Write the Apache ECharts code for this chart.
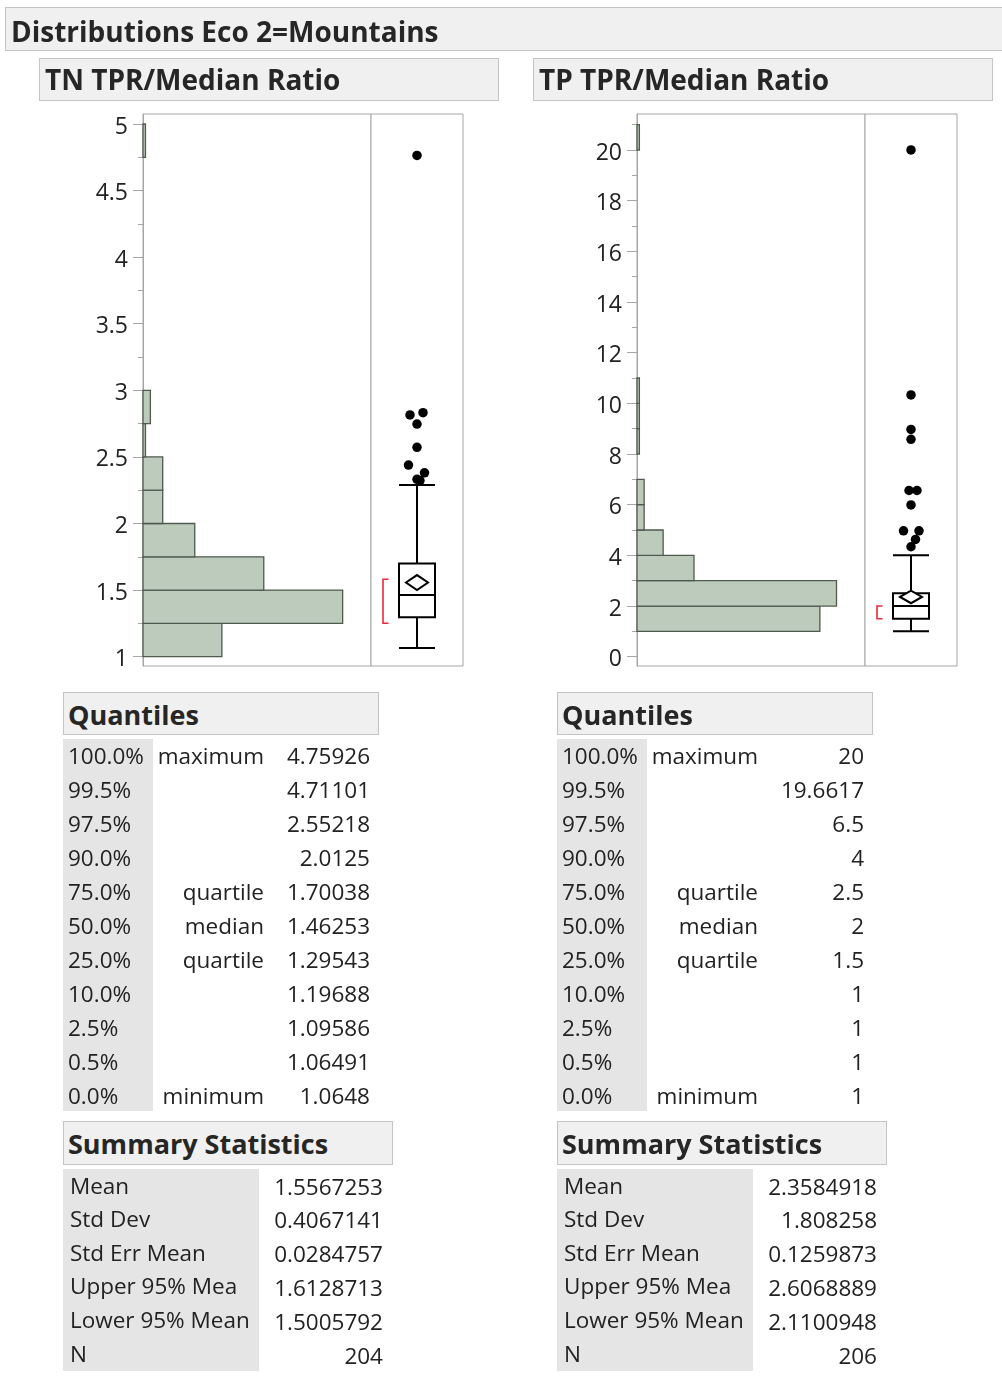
<!DOCTYPE html>
<html><head><meta charset="utf-8">
<script src="https://cdn.jsdelivr.net/npm/echarts@6/dist/echarts.min.js"></script>
<style>
html,body{margin:0;padding:0;background:#fff;}
#page{position:relative;width:1002px;height:1383px;overflow:hidden;font-family:'Open Sans',sans-serif;color:#222;}
#chart{position:absolute;left:0;top:0;width:1002px;height:1383px;}
.hbox{position:absolute;background:#f0f0f0;border:1px solid #c4c4c4;box-sizing:border-box;}
.gray{position:absolute;background:#e5e5e5;}
.t{position:absolute;white-space:nowrap;line-height:40px;height:40px;font-size:22.5px;}
.b{font-weight:700;font-size:27px;color:#262626;}
.bb{font-weight:700;font-size:28px;color:#262626;}
</style></head><body>
<div id="page"><div id="chart"></div><div id="overlay"></div></div>
<script>
// ---------- data ----------
const tnTicks = [1, 1.5, 2, 2.5, 3, 3.5, 4, 4.5, 5];
const tnMinorTicks = [1.25, 1.75, 2.25, 2.75, 3.25, 3.75, 4.25, 4.75];
const tpTicks = [0, 2, 4, 6, 8, 10, 12, 14, 16, 18, 20];
const tpMinorTicks = [1, 3, 5, 7, 9, 11, 13, 15, 17, 19, 21];

const tnBinWidth = 0.25;
const tnBinStarts = [1, 1.25, 1.5, 1.75, 2, 2.25, 2.5, 2.75, 4.75];
const tnBinCounts = [32, 81, 49, 21, 8, 8, 1, 3, 1];
const tpBinWidth = 1;
const tpBinStarts = [1, 2, 3, 4, 5, 6, 8, 9, 10, 20];
const tpBinCounts = [77, 84, 24, 11, 3, 3, 1, 1, 1, 1];

const tnOutliers = [4.764, 2.832, 2.815, 2.747, 2.572, 2.439, 2.381, 2.332, 2.322];
const tnOutlierJitter = [0, 6, -7, 0, 0, -8.5, 7.5, 0, 3];
const tpOutliers = [20, 10.33, 8.97, 8.58, 6.56, 6.56, 5.99, 4.97, 4.97, 4.63, 4.34];
const tpOutlierJitter = [0, 0, 0, 0, -2, 6, 0, -7.5, 8, 4.5, 0];

const tnWhiskers = [1.0648, 2.289];
const tpWhiskers = [1, 4];
const tnShortestHalf = [1.251, 1.581];
const tpShortestHalf = [1.5, 2.0];

const quantLevels = ['100.0%', '99.5%', '97.5%', '90.0%', '75.0%', '50.0%', '25.0%', '10.0%', '2.5%', '0.5%', '0.0%'];
const quantNames = ['maximum', '', '', '', 'quartile', 'median', 'quartile', '', '', '', 'minimum'];
const tnQuantValues = ['4.75926', '4.71101', '2.55218', '2.0125', '1.70038', '1.46253', '1.29543', '1.19688', '1.09586', '1.06491', '1.0648'];
const tpQuantValues = ['20', '19.6617', '6.5', '4', '2.5', '2', '1.5', '1', '1', '1', '1'];

const statNames = ['Mean', 'Std Dev', 'Std Err Mean', 'Upper 95% Mea', 'Lower 95% Mean', 'N'];
const tnStats = ['1.5567253', '0.4067141', '0.0284757', '1.6128713', '1.5005792', '204'];
const tpStats = ['2.3584918', '1.808258', '0.1259873', '2.6068889', '2.1100948', '206'];

const pageTitle = 'Distributions Eco 2=Mountains';
const panelTitles = ['TN TPR/Median Ratio', 'TP TPR/Median Ratio'];

// ---------- overlay (report boxes & tables) ----------
const ov = document.getElementById('overlay');
function el(cls, css, text) {
  const d = document.createElement('div');
  d.className = cls;
  Object.assign(d.style, css);
  if (text !== undefined) d.textContent = text;
  ov.appendChild(d);
  return d;
}
function txt(s, x, cy, align, cls) {
  const css = { top: (cy - 20) + 'px' };
  if (align === 'right') css.right = (1002 - x) + 'px'; else css.left = x + 'px';
  return el('t' + (cls ? ' ' + cls : ''), css, s);
}
el('hbox', { left: '5px', top: '7px', width: '1010px', height: '44px' });
txt(pageTitle, 11, 31, 'left', 'bb');

const sides = [
  { dx: 0, title: panelTitles[0], q: tnQuantValues, s: tnStats },
  { dx: 494, title: panelTitles[1], q: tpQuantValues, s: tpStats }
];
sides.forEach(sd => {
  const dx = sd.dx;
  el('hbox', { left: (39 + dx) + 'px', top: '58px', width: '460px', height: '43px' });
  txt(sd.title, 45 + dx, 79, 'left', 'bb');
  // Quantiles
  el('hbox', { left: (63 + dx) + 'px', top: '692px', width: '316px', height: '43px' });
  txt('Quantiles', 68 + dx, 715, 'left', 'b');
  el('gray', { left: (63 + dx) + 'px', top: '739px', width: '90px', height: '372px' });
  quantLevels.forEach((lv, i) => {
    const cy = 756 + 34 * i;
    txt(lv, 68 + dx, cy, 'left');
    if (quantNames[i]) txt(quantNames[i], 264 + dx, cy, 'right');
    txt(sd.q[i], 370 + dx, cy, 'right');
  });
  // Summary statistics
  el('hbox', { left: (63 + dx) + 'px', top: '1121px', width: '330px', height: '44px' });
  txt('Summary Statistics', 68 + dx, 1144, 'left', 'b');
  el('gray', { left: (63 + dx) + 'px', top: '1169px', width: '196px', height: '202px' });
  statNames.forEach((nm, i) => {
    txt(nm, 70 + dx, 1185.5 + 33.6 * i, 'left');
    txt(sd.s[i], 383 + dx, 1186.5 + 33.9 * i, 'right');
  });
});

// ---------- chart ----------
const chart = echarts.init(document.getElementById('chart'), null, { renderer: 'canvas' });
const AX = '#a6a6a6';
const FONT = 'Open Sans';

function histData(starts, counts, w) {
  return starts.map((s, i) => [s, s + w, counts[i]]);
}
function histRender(params, api) {
  const p0 = api.coord([0, api.value(0)]);
  const p1 = api.coord([api.value(2), api.value(1)]);
  return {
    type: 'rect',
    shape: { x: p0[0], y: p1[1], width: p1[0] - p0[0], height: p0[1] - p1[1] },
    style: { fill: '#bccbbc', stroke: '#4f5a4f', lineWidth: 1.3 }
  };
}
function meanRender(params, api) {
  const c = api.coord([api.value(0), api.value(2)]);
  const top = api.coord([api.value(0), api.value(3)])[1];
  const bot = api.coord([api.value(0), api.value(1)])[1];
  const shLo = api.coord([api.value(0), api.value(4)])[1];
  const shHi = api.coord([api.value(0), api.value(5)])[1];
  const hw = 11;
  const bx = c[0] - 34, bx2 = c[0] - 28.5;
  return {
    type: 'group',
    children: [
      { type: 'polygon', shape: { points: [[c[0] - hw, c[1]], [c[0], top], [c[0] + hw, c[1]], [c[0], bot]] },
        style: { fill: '#fff', stroke: '#000', lineWidth: 2 } },
      { type: 'polyline', shape: { points: [[bx2, shHi], [bx, shHi], [bx, shLo], [bx2, shLo]] },
        style: { fill: null, stroke: '#e8283c', lineWidth: 1.6 } }
    ]
  };
}
function majorAxis(grid, min, max, ticks) {
  return {
    gridIndex: grid, type: 'value', min: min, max: max, position: 'left',
    axisLine: { show: true, onZero: false, lineStyle: { color: AX, width: 1 } },
    axisTick: { show: true, length: 10, customValues: ticks, lineStyle: { color: AX, width: 1 } },
    axisLabel: { show: true, customValues: ticks, margin: 15,
                 formatter: v => '{a|' + v + '}',
                 rich: { a: { fontSize: 23, color: '#222', fontFamily: FONT, padding: [6, 0, 0, 0] } } },
    splitLine: { show: false }
  };
}
function minorAxis(grid, min, max, ticks) {
  return {
    gridIndex: grid, type: 'value', min: min, max: max, position: 'left',
    axisLine: { show: false },
    axisTick: { show: true, length: 5, customValues: ticks, lineStyle: { color: AX, width: 1 } },
    axisLabel: { show: false },
    splitLine: { show: false }
  };
}
function hiddenY(grid, min, max) {
  return { gridIndex: grid, type: 'value', min: min, max: max, show: false, splitLine: { show: false } };
}
const gridBase = { top: 114, height: 552, show: true, borderColor: AX, borderWidth: 1, backgroundColor: '#fff', containLabel: false };

const tnRange = [0.93, 5.075];
const tpRange = [-0.367, 21.42];

function boxSeries(xi, yi, qv, st, whisk, sh, outl, jit) {
  return [
    {
      type: 'boxplot', xAxisIndex: xi, yAxisIndex: yi, boxWidth: [36, 36],
      data: [[whisk[0], +qv[6], +qv[5], +qv[4], whisk[1]]],
      itemStyle: { color: '#fff', borderColor: '#000', borderWidth: 2 },
      emphasis: { disabled: true }, silent: true, z: 2
    },
    {
      type: 'custom', xAxisIndex: xi, yAxisIndex: yi, renderItem: meanRender,
      data: [[0, +st[4], +st[0], +st[3], sh[0], sh[1]]],
      encode: { x: 0, y: [1, 2, 3, 4, 5] }, silent: true, z: 3
    },
    {
      type: 'scatter', xAxisIndex: xi, yAxisIndex: yi, symbol: 'circle', symbolSize: 9.5,
      itemStyle: { color: '#000', opacity: 1 },
      data: outl.map((v, i) => ({ value: [0, v], symbolOffset: [jit[i], 0] })),
      silent: true, z: 4
    }
  ];
}

const option = {
  animation: false,
  backgroundColor: 'transparent',
  grid: [
    Object.assign({ left: 143, width: 228 }, gridBase),
    Object.assign({ left: 371, width: 92 }, gridBase),
    Object.assign({ left: 637, width: 228 }, gridBase),
    Object.assign({ left: 865, width: 92 }, gridBase)
  ],
  xAxis: [
    { gridIndex: 0, type: 'value', min: 0, max: 92.5, show: false, splitLine: { show: false } },
    { gridIndex: 1, type: 'category', data: ['TN'], show: false },
    { gridIndex: 2, type: 'value', min: 0, max: 96, show: false, splitLine: { show: false } },
    { gridIndex: 3, type: 'category', data: ['TP'], show: false }
  ],
  yAxis: [
    majorAxis(0, tnRange[0], tnRange[1], tnTicks),
    minorAxis(0, tnRange[0], tnRange[1], tnMinorTicks),
    hiddenY(1, tnRange[0], tnRange[1]),
    majorAxis(2, tpRange[0], tpRange[1], tpTicks),
    minorAxis(2, tpRange[0], tpRange[1], tpMinorTicks),
    hiddenY(3, tpRange[0], tpRange[1])
  ],
  series: [
    { type: 'custom', xAxisIndex: 0, yAxisIndex: 0, renderItem: histRender,
      data: histData(tnBinStarts, tnBinCounts, tnBinWidth), encode: { x: 2, y: [0, 1] }, silent: true },
    ...boxSeries(1, 2, tnQuantValues, tnStats, tnWhiskers, tnShortestHalf, tnOutliers, tnOutlierJitter),
    { type: 'custom', xAxisIndex: 2, yAxisIndex: 3, renderItem: histRender,
      data: histData(tpBinStarts, tpBinCounts, tpBinWidth), encode: { x: 2, y: [0, 1] }, silent: true },
    ...boxSeries(3, 5, tpQuantValues, tpStats, tpWhiskers, tpShortestHalf, tpOutliers, tpOutlierJitter)
  ]
};
chart.setOption(option);
</script></body></html>
